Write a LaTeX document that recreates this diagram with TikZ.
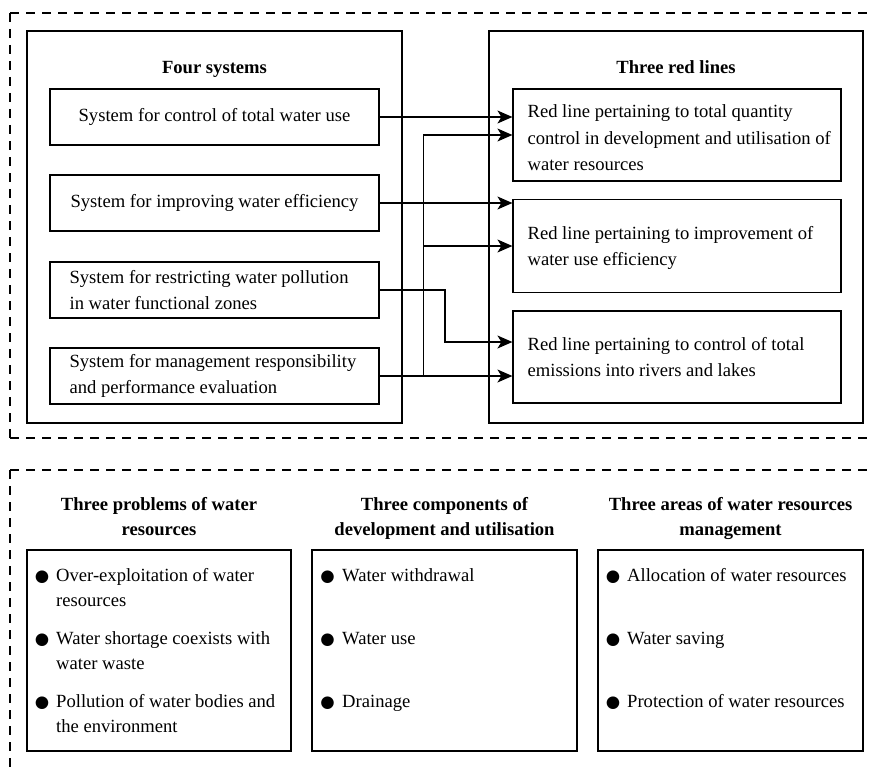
\documentclass[tikz,border=0pt]{standalone}
\usepackage{fontspec}
\setmainfont{Liberation Serif}
\newfontfamily\symfont{DejaVu Sans}
\usetikzlibrary{arrows.meta}
\newcommand{\bul}{{\symfont\fontsize{16.5}{20}\selectfont ●}}
\begin{document}
\begin{tikzpicture}[x=1pt,y=-1pt,
  font=\fontsize{18.6}{26}\selectfont,
  box/.style={draw, line width=1.2pt, rectangle, inner sep=0pt},
  frame/.style={draw, line width=1.1pt, dash pattern=on 9pt off 7pt},
  ttl/.style={font=\fontsize{18.6}{25}\selectfont\bfseries, align=center, inner sep=0pt, anchor=base},
  arr/.style={line width=1.3pt, -{Stealth[length=15pt,width=13pt,inset=4pt]}},
  rtxt/.style={inner sep=0pt, anchor=west, align=left, font=\fontsize{18.6}{26.5}\selectfont},
  itm/.style={inner sep=0pt, anchor=base west, align=left, font=\fontsize{18.6}{25}\selectfont},
  dot/.style={inner sep=0pt, anchor=base}]
\useasboundingbox (0,0) rectangle (872,773);
% dashed frames
\draw[frame] (10,13) -- (872,13);
\draw[frame] (10,13) -- (10,438);
\draw[frame] (10,438) -- (872,438);
\draw[frame] (10,470) -- (872,470);
\draw[frame] (10,470) -- (10,773);
% outer boxes
\node[box, minimum width=375pt, minimum height=392pt] (lo) at (214.5,227) {};
\node[box, minimum width=374pt, minimum height=392pt] (ro) at (676,227) {};
\node[ttl] (lt) at (214.5,74) {Four systems};
\node[ttl] (rt) at (676,74) {Three red lines};
% left boxes
\node[box, minimum width=329pt, minimum height=56pt] (b1) at (214.5,117) {System for control of total water use};
\node[box, minimum width=329pt, minimum height=56pt] (b2) at (214.5,203) {System for improving water efficiency};
\node[box, minimum width=329pt, minimum height=56pt] (b3) at (214.5,290) {};
\node[box, minimum width=329pt, minimum height=56pt] (b4) at (214.5,376) {};
\node[rtxt] (b3t) at ([xshift=20pt]b3.west) {System for restricting water pollution\\in water functional zones};
\node[rtxt] (b4t) at ([xshift=20pt]b4.west) {System for management responsibility\\and performance evaluation};
% right boxes
\node[box, minimum width=328pt, minimum height=92pt] (r1) at (677,135) {};
\node[box, minimum width=328pt, minimum height=93pt] (r2) at (677,246) {};
\node[box, minimum width=328pt, minimum height=92pt] (r3) at (677,357) {};
\node[rtxt] (r1t) at ([xshift=15pt,yshift=-3pt]r1.west) {Red line pertaining to total quantity\\control in development and utilisation of\\water resources};
\node[rtxt] (r2t) at ([xshift=15pt,yshift=-2pt]r2.west) {Red line pertaining to improvement of\\water use efficiency};
\node[rtxt] (r3t) at ([xshift=15pt]r3.west) {Red line pertaining to control of total\\emissions into rivers and lakes};
% connectors
\draw[arr] (b1.east) -- (b1.east -| r1.west);
\draw[arr] (b2.east) -- (b2.east -| r2.west);
\coordinate (k) at (445,342);
\draw[arr] (b3.east) -| (k) -- (k -| r3.west);
\draw[arr] (b4.east) -- (b4.east -| r3.west);
\path (b4.east) ++(44,0) coordinate (t);
\draw[arr] (t) |- (r1.west);
\draw[arr] (t |- r2.west) -- (r2.west);
% bottom titles (base = last line)
\node[ttl] (c1t) at (159,535) {Three problems of water\\resources};
\node[ttl] (c2t) at (444.5,535) {Three components of\\development and utilisation};
\node[ttl] (c3t) at (730.5,535) {Three areas of water resources\\management};
% bottom boxes
\node[box, minimum width=264pt, minimum height=201pt] (c1) at (159,650.5) {};
\node[box, minimum width=265pt, minimum height=201pt] (c2) at (444.5,650.5) {};
\node[box, minimum width=265pt, minimum height=201pt] (c3) at (730.5,650.5) {};
% column 1 items (base = last line)
\node[dot] (d11) at (42,581) {\bul};
\node[itm] (i11) at (56,606) {Over-exploitation of water\\resources};
\node[dot] (d12) at (42,644) {\bul};
\node[itm] (i12) at (56,669) {Water shortage coexists with\\water waste};
\node[dot] (d13) at (42,707) {\bul};
\node[itm] (i13) at (56,732) {Pollution of water bodies and\\the environment};
% column 2 items
\node[dot] (d21) at (327.5,581) {\bul};
\node[itm] (i21) at (342,581) {Water withdrawal};
\node[dot] (d22) at (327.5,644) {\bul};
\node[itm] (i22) at (342,644) {Water use};
\node[dot] (d23) at (327.5,707) {\bul};
\node[itm] (i23) at (342,707) {Drainage};
% column 3 items
\node[dot] (d31) at (613,581) {\bul};
\node[itm] (i31) at (627,581) {Allocation of water resources};
\node[dot] (d32) at (613,644) {\bul};
\node[itm] (i32) at (627,644) {Water saving};
\node[dot] (d33) at (613,707) {\bul};
\node[itm] (i33) at (627,707) {Protection of water resources};
\end{tikzpicture}
\end{document}
